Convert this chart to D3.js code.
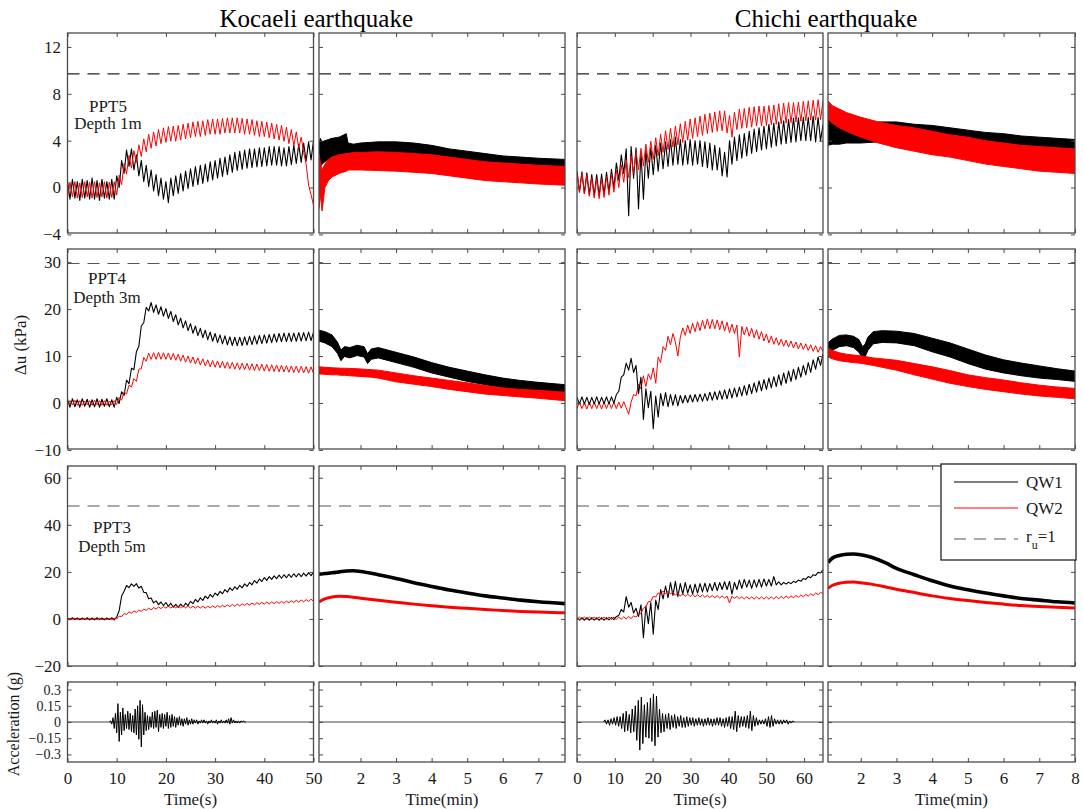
<!DOCTYPE html>
<html><head><meta charset="utf-8">
<script src="https://cdn.jsdelivr.net/npm/d3@7"></script>
<style>body{margin:0;background:#fff}</style>
</head><body><svg id="c" width="1083" height="809"></svg>
<script>
// ---------------- DATA ----------------
// Time (s) series: uniform sampling, start 0
const kocaeliSecStep = 0.5;   // s
const chichiSecStep = 0.65;   // s

const kocaeliPPT5_QW1 = [0.6,-1.0,0.7,-0.9,0.5,-1.1,0.7,-0.9,0.6,-1.0,
 0.8,-1.0,0.6,-1.1,0.7,-0.9,0.5,-1.0,0.7,-1.0,
 1.0,0.0,2.3,1.2,3.2,1.8,3.3,1.5,2.8,1.0,
 2.3,0.5,1.9,0.1,1.5,-0.3,1.1,-0.7,0.8,-1.0,
 0.5,-1.3,0.8,-0.7,1.0,-0.5,1.2,-0.3,1.4,-0.1,
 1.6,0.1,1.8,0.25,1.9,0.35,2.0,0.5,2.2,0.65,
 2.3,0.8,2.5,0.95,2.6,1.1,2.8,1.3,3.0,1.45,
 3.1,1.55,3.2,1.65,3.3,1.7,3.3,1.75,3.4,1.8,
 3.4,1.85,3.5,1.9,3.5,1.9,3.5,1.85,3.4,1.85,
 3.5,1.95,3.6,2.05,3.7,2.15,3.8,2.25,3.9,2.35,4.0];
const kocaeliPPT5_QW2 = [-0.85,0.45,-0.8,0.5,-0.9,0.4,-0.85,0.5,-0.8,0.45,
 -0.9,0.5,-0.85,0.4,-0.8,0.5,-0.9,0.45,-0.85,0.5,
 -0.65,1.05,0.25,2.05,1.15,2.75,1.65,3.15,2.15,3.65,
 2.65,4.15,3.05,4.55,3.35,4.75,3.55,4.95,3.75,5.1,
 3.85,5.2,3.95,5.25,3.95,5.3,4.05,5.4,4.15,5.5,
 4.25,5.6,4.35,5.65,4.35,5.7,4.45,5.8,4.55,5.85,
 4.55,5.85,4.55,5.9,4.65,5.95,4.65,5.95,4.65,5.95,
 4.65,5.9,4.55,5.85,4.55,5.8,4.45,5.7,4.35,5.65,
 4.35,5.6,4.25,5.5,4.15,5.4,4.05,5.3,3.95,5.15,
 3.75,4.95,3.55,4.75,3.35,4.3,3.0,2.0,0.2,-0.6,-1.5];
const kocaeliPPT4_QW1 = [0.8,-0.9,0.9,-0.8,0.7,-0.9,0.9,-0.7,0.8,-0.9,
 0.7,-0.8,0.9,-0.9,0.8,-0.7,0.9,-0.8,0.7,-0.9,
 1.2,-0.1,2.4,1.6,4.9,4.1,7.4,7.1,10.9,12.1,
 16.4,17.1,20.4,19.6,21.4,19.3,20.9,18.9,20.5,18.5,
 20.1,18.0,19.5,17.35,18.8,16.65,18.1,16.0,17.5,15.4,
 16.9,14.85,16.4,14.35,15.9,13.9,15.5,13.5,15.1,13.15,
 14.8,12.85,14.5,12.6,14.3,12.4,14.1,12.25,14.0,12.2,
 14.0,12.25,14.1,12.35,14.2,12.45,14.3,12.55,14.4,12.65,
 14.5,12.75,14.6,12.85,14.7,12.95,14.8,13.05,14.9,13.1,
 14.9,13.1,14.9,13.15,15.0,13.2,15.0,13.25,15.1,13.3,15.1];
const kocaeliPPT4_QW2 = [-0.5,0.5,-0.4,0.6,-0.5,0.5,-0.5,0.4,-0.4,0.5,
 -0.5,0.6,-0.4,0.5,-0.5,0.5,-0.5,0.4,-0.4,0.5,
 -0.3,1.2,0.6,2.4,1.9,3.8,3.4,5.2,4.6,7.2,
 7.3,9.7,8.9,10.6,9.3,10.7,9.3,10.8,9.3,10.7,
 9.3,10.65,9.2,10.55,9.1,10.4,8.9,10.2,8.7,10.0,
 8.5,9.8,8.3,9.6,8.1,9.4,7.9,9.2,7.7,9.05,
 7.6,8.95,7.5,8.85,7.4,8.75,7.3,8.65,7.2,8.55,
 7.1,8.5,7.1,8.45,7.0,8.35,6.9,8.3,6.9,8.25,
 6.8,8.2,6.75,8.15,6.7,8.1,6.65,8.05,6.6,7.95,
 6.55,7.9,6.5,7.85,6.45,7.8,6.4,7.75,6.35,7.7,6.3];
const kocaeliPPT3_QW1 = [0.4,-0.4,0.5,-0.3,0.4,-0.4,0.4,-0.3,0.5,-0.4,
 0.4,-0.4,0.5,-0.3,0.4,-0.4,0.4,-0.3,0.5,-0.4,
 0.8,3.5,9.7,11.8,14.2,13.3,14.9,13.8,15.0,13.1,
 13.9,11.3,11.2,8.6,8.9,6.8,7.7,6.1,7.2,5.7,
 7.0,5.4,6.7,5.0,6.2,4.9,6.3,5.1,6.7,5.7,
 7.5,6.5,8.3,7.2,9.0,7.9,9.7,8.6,10.4,9.3,
 11.0,10.0,11.7,10.7,12.5,11.4,13.2,12.1,13.7,12.6,
 14.3,13.2,14.9,13.8,15.5,14.5,16.3,15.2,17.0,15.9,
 17.6,16.4,18.0,16.8,18.3,17.1,18.6,17.3,18.8,17.5,
 19.0,17.7,19.2,17.9,19.3,18.0,19.5,18.2,19.7,18.4,19.9];
const kocaeliPPT3_QW2 = [-0.3,0.3,-0.3,0.3,-0.3,0.3,-0.3,0.3,-0.3,0.3,
 -0.3,0.3,-0.3,0.3,-0.3,0.3,-0.3,0.3,-0.3,0.3,
 0.0,1.2,1.0,2.3,1.9,3.0,2.4,3.4,2.8,3.8,
 3.2,4.2,3.6,4.55,3.9,4.85,4.2,5.1,4.4,5.3,
 4.6,5.4,4.65,5.45,4.7,5.5,4.7,5.5,4.7,5.5,
 4.65,5.4,4.6,5.4,4.6,5.4,4.6,5.45,4.7,5.55,
 4.8,5.7,4.95,5.85,5.1,6.0,5.25,6.15,5.4,6.3,
 5.55,6.45,5.7,6.6,5.85,6.75,6.0,6.9,6.15,7.05,
 6.3,7.15,6.4,7.25,6.5,7.35,6.6,7.45,6.7,7.6,
 6.85,7.75,7.0,7.9,7.15,8.05,7.3,8.2,7.45,8.35,7.6];

const chichiPPT5_QW1 = [1.4,-0.4,1.35,-0.5,1.25,-0.6,1.1,-0.7,1.1,-0.7,
 1.15,-0.6,1.3,-0.4,1.55,-0.05,2.1,0.6,2.8,1.2,
 3.3,-2.4,3.5,0.8,3.4,-1.8,3.0,-1.0,3.2,0.8,
 3.4,1.1,3.6,1.4,3.8,1.6,3.9,1.8,4.1,1.9,
 4.3,2.0,4.1,1.9,4.0,2.0,4.1,1.9,4.0,2.0,
 4.0,1.8,3.9,1.7,3.8,1.5,3.6,1.5,3.4,1.0,
 3.0,0.9,4.0,2.0,4.3,2.3,4.5,2.5,4.6,2.7,
 4.8,2.9,5.0,3.05,5.1,3.2,5.25,3.3,5.4,3.45,
 5.5,3.55,5.6,3.7,5.7,3.75,5.8,3.85,5.9,3.9,
 5.95,4.0,6.0,4.0,6.0,4.0,6.1,3.9,6.0,4.0,5.4];
const chichiPPT5_QW2 = [1.35,-0.4,1.25,-0.55,1.05,-0.75,0.85,-0.9,0.75,-0.95,
 0.75,-0.85,0.95,-0.65,1.15,-0.4,1.5,0.0,1.95,0.45,
 2.35,0.85,2.7,1.2,3.05,1.5,3.35,1.85,3.7,2.15,
 3.95,2.4,4.25,2.7,4.55,3.0,4.85,3.25,5.05,3.45,
 5.25,3.65,5.45,3.85,5.65,4.05,5.85,4.2,5.95,4.35,
 6.1,4.45,6.25,4.6,6.35,4.7,6.45,4.8,6.55,4.85,
 6.55,4.65,6.15,4.3,6.45,4.95,6.7,5.05,6.75,5.1,
 6.85,5.15,6.9,5.25,6.95,5.25,6.95,5.3,7.0,5.35,
 7.05,5.4,7.15,5.45,7.2,5.5,7.25,5.55,7.25,5.6,
 7.3,5.65,7.35,5.7,7.4,5.75,7.45,5.75,7.5,5.8,7.4];
const chichiPPT4_QW1 = [1.2,-0.2,1.3,-0.2,1.2,-0.3,1.2,-0.2,1.3,-0.2,
 1.2,-0.1,1.3,-0.2,1.3,0.0,1.8,2.5,5.5,6.0,
 8.5,7.0,9.5,6.5,8.0,2.0,5.5,-3.5,3.0,-1.0,
 2.5,-5.5,1.5,-3.0,2.0,-0.6,2.2,-0.8,1.8,-0.5,
 1.8,-0.6,1.6,0.0,1.6,0.1,1.7,0.2,1.8,0.3,
 1.9,0.4,2.0,0.5,2.3,0.6,2.4,0.7,2.6,0.8,
 2.8,0.9,3.0,1.1,3.2,1.3,3.4,1.5,3.7,1.7,
 4.0,2.0,4.3,2.3,4.7,2.6,5.0,2.9,5.3,3.2,
 5.6,3.5,6.0,3.8,6.4,4.2,6.8,4.6,7.2,5.0,
 7.6,5.5,8.0,6.0,8.6,6.5,9.2,7.2,9.8,8.0,10.5];
const chichiPPT4_QW2 = [-1.2,0.2,-1.2,0.1,-1.3,0.2,-1.2,0.2,-1.2,0.1,
 -1.3,0.2,-1.2,0.2,-1.2,0.2,-1.2,0.2,-1.1,0.3,
 -1.0,-2.4,0.2,1.8,1.5,4.0,3.0,5.8,3.5,6.2,
 5.0,7.5,4.2,9.8,8.6,12.0,11.2,14.2,12.4,14.8,
 13.0,10.0,14.0,16.0,14.4,16.6,14.8,17.0,15.2,17.3,
 15.4,17.6,15.8,17.9,15.8,17.8,15.8,17.7,15.6,17.5,
 15.3,17.2,15.0,16.8,14.8,16.6,9.8,16.3,14.5,16.2,
 14.2,15.9,13.9,15.6,13.6,15.2,13.2,14.7,12.8,14.3,
 12.5,13.9,12.3,13.6,12.1,13.4,11.9,13.2,11.7,13.0,
 11.5,12.8,11.4,12.6,11.2,12.4,11.0,12.2,10.8,12.0,11.0];
const chichiPPT3_QW1 = [0.5,-0.5,0.5,-0.5,0.5,-0.5,0.5,-0.5,0.5,-0.5,
 0.5,-0.5,0.5,-0.4,0.6,-0.3,1.0,1.5,4.0,3.0,
 9.5,5.0,7.0,2.5,4.5,1.0,6.0,-8.0,5.5,-2.0,
 7.0,-6.5,8.0,4.0,12.5,8.5,14.0,9.0,15.5,10.0,
 16.0,9.5,15.0,10.5,15.5,11.0,14.5,10.5,14.8,11.0,
 15.0,11.5,15.2,11.5,15.0,12.0,15.5,12.0,15.5,12.5,
 15.8,12.5,16.0,10.5,15.5,12.5,16.5,13.0,16.8,13.5,
 16.5,13.0,16.6,13.5,16.8,13.5,17.0,14.0,16.8,14.0,
 18.0,14.5,15.8,14.5,15.5,14.8,15.6,15.0,16.0,15.5,
 16.5,16.0,17.2,16.8,18.0,17.5,18.8,18.5,19.8,19.5,21.0];
const chichiPPT3_QW2 = [-0.2,0.8,-0.2,0.8,-0.2,0.8,-0.2,0.8,-0.2,0.8,
 -0.2,0.8,-0.2,0.8,-0.2,0.8,-0.2,0.8,-0.1,0.9,
 0.0,1.0,0.1,1.3,0.8,2.2,2.4,4.6,5.0,7.4,
 7.4,9.6,9.3,11.0,10.5,11.9,10.8,11.8,10.6,11.4,
 10.1,11.0,9.7,10.7,9.6,10.6,9.5,10.5,9.4,10.3,
 9.3,10.2,9.2,10.1,9.1,10.0,9.0,9.9,8.9,9.8,
 8.8,9.7,6.8,9.7,8.7,9.6,8.6,9.5,8.5,9.4,
 8.5,9.4,8.4,9.4,8.4,9.4,8.4,9.4,8.4,9.4,
 8.5,9.5,8.6,9.6,8.7,9.7,8.8,9.8,9.0,10.0,
 9.2,10.2,9.4,10.4,9.7,10.7,10.0,11.0,10.3,11.3,10.8];

// Time (min) series: envelope bands (upper / lower) at sample times
const kocaeliPPT5_minT = [0.833,0.87,0.92,1.0,1.1,1.2,1.4,1.6,1.65,1.8,2.0,2.5,3.0,3.5,4.0,4.5,5.0,5.5,6.0,6.5,7.0,7.75];
const kocaeliPPT5_QW1_hi = [3.8,4.2,3.9,4.0,4.1,4.2,4.3,4.6,3.8,3.7,3.8,3.9,3.9,3.8,3.6,3.3,3.1,2.9,2.7,2.6,2.5,2.4];
const kocaeliPPT5_QW1_lo = [1.0,1.8,2.0,2.2,2.4,2.5,2.6,2.7,2.4,2.3,2.4,2.5,2.5,2.4,2.2,2.0,1.8,1.6,1.4,1.3,1.2,1.1];
const kocaeliPPT5_QW2_hi = [2.9,2.2,1.5,2.0,2.4,2.6,2.8,2.9,2.9,3.0,3.0,3.05,3.0,2.9,2.8,2.6,2.4,2.2,2.1,2.0,1.9,1.8];
const kocaeliPPT5_QW2_lo = [-1.8,-0.6,-2.0,0.0,0.6,0.9,1.2,1.4,1.5,1.5,1.5,1.45,1.4,1.3,1.2,1.0,0.8,0.6,0.5,0.4,0.3,0.2];

const chichiPPT5_minT = [1.083,1.2,1.4,1.6,2.0,2.5,3.0,3.5,4.0,4.5,5.0,5.5,6.0,6.5,7.0,7.5,8.0];
const chichiPPT5_QW1_hi = [5.8,5.5,5.3,5.2,5.4,5.6,5.6,5.4,5.3,5.1,4.9,4.7,4.6,4.4,4.3,4.2,4.1];
const chichiPPT5_QW1_lo = [3.6,3.7,3.7,3.8,3.8,3.9,3.8,3.6,3.5,3.4,3.3,3.2,3.1,3.0,2.9,2.8,2.7];
const chichiPPT5_QW2_hi = [7.4,7.0,6.7,6.4,6.0,5.6,5.3,5.1,4.8,4.5,4.3,4.0,3.8,3.6,3.5,3.4,3.3];
const chichiPPT5_QW2_lo = [5.9,5.5,5.1,4.8,4.3,3.8,3.4,3.1,2.8,2.6,2.3,2.0,1.8,1.6,1.4,1.3,1.2];

const kocaeliPPT4_minT = [0.833,1.0,1.2,1.35,1.45,1.55,1.7,1.9,2.1,2.2,2.3,2.5,3.0,3.5,4.0,4.5,5.0,5.5,6.0,6.5,7.0,7.75];
const kocaeliPPT4_QW1_hi = [15.5,15.2,14.5,13.0,11.3,12.0,11.8,12.3,12.0,10.5,11.5,11.8,10.8,9.8,8.6,7.6,6.8,6.0,5.3,4.8,4.4,3.9];
const kocaeliPPT4_QW1_lo = [13.2,12.8,12.0,10.6,9.0,9.9,9.6,10.1,9.8,8.4,9.3,9.6,8.6,7.6,6.4,5.5,4.6,3.9,3.3,2.8,2.4,2.0];
const kocaeliPPT4_QW2_hi = [7.7,7.6,7.5,7.45,7.4,7.4,7.35,7.3,7.2,7.15,7.1,7.0,6.4,5.8,5.3,4.8,4.3,3.7,3.2,2.9,2.7,2.3];
const kocaeliPPT4_QW2_lo = [6.2,6.1,6.0,6.0,5.9,5.9,5.8,5.7,5.6,5.55,5.5,5.3,4.5,4.0,3.5,2.9,2.4,1.9,1.6,1.3,1.0,0.5];

const chichiPPT4_minT = [1.083,1.2,1.4,1.6,1.8,1.95,2.05,2.12,2.2,2.35,2.6,3.0,3.5,4.0,4.5,5.0,5.5,6.0,6.5,7.0,7.5,8.0];
const chichiPPT4_QW1_hi = [12.8,13.6,14.4,14.5,14.2,13.5,12.0,12.5,14.0,15.2,15.4,15.3,14.8,13.8,12.8,11.5,10.2,9.2,8.5,7.9,7.3,6.8];
const chichiPPT4_QW1_lo = [10.6,11.2,12.0,12.2,11.8,10.8,9.5,9.8,11.2,12.6,12.9,12.8,12.2,10.9,9.8,8.4,7.2,6.4,5.8,5.3,5.0,4.6];
const chichiPPT4_QW2_hi = [11.7,11.2,10.7,10.4,10.2,10.1,10.0,9.9,9.8,9.6,9.4,9.1,8.4,7.7,6.9,6.0,5.4,4.9,4.3,3.8,3.4,3.1];
const chichiPPT4_QW2_lo = [9.8,9.4,9.0,8.8,8.6,8.5,8.4,8.3,8.2,8.0,7.6,7.0,6.0,5.1,4.2,3.5,2.9,2.4,1.9,1.5,1.2,0.9];

const kocaeliPPT3_minT = [0.833,1.0,1.2,1.4,1.6,1.8,2.0,2.5,3.0,3.5,4.0,4.5,5.0,5.5,6.0,6.5,7.0,7.75];
const kocaeliPPT3_QW1_min = [19.0,19.3,19.6,20.0,20.4,20.5,20.2,18.8,17.2,15.4,13.8,12.3,11.0,9.8,8.9,8.0,7.3,6.5];
const kocaeliPPT3_QW2_min = [7.2,8.5,9.3,9.6,9.5,9.2,8.8,7.9,7.1,6.3,5.6,5.0,4.5,4.0,3.6,3.2,2.9,2.6];

const chichiPPT3_minT = [1.083,1.2,1.4,1.6,1.8,2.0,2.3,2.7,3.0,3.5,4.0,4.5,5.0,5.5,6.0,6.5,7.0,7.5,8.0];
const chichiPPT3_QW1_min = [24.0,25.8,27.0,27.5,27.6,27.3,26.2,23.8,21.5,18.8,16.2,14.0,12.4,11.0,9.8,8.7,8.0,7.3,6.8];
const chichiPPT3_QW2_min = [13.0,14.2,15.2,15.6,15.7,15.4,14.8,13.6,12.6,11.2,9.8,8.7,7.8,7.0,6.3,5.7,5.3,5.0,4.7];

// Accelerations (g)
const kocaeliAccStart = 8.5, kocaeliAccStep = 0.25;
const kocaeliAcc = [0.00,0.01,-0.02,0.04,-0.06,0.08,-0.10,0.17,-0.18,0.09,
 -0.12,0.13,-0.08,0.07,-0.06,0.10,-0.07,0.08,-0.09,0.06,
 -0.10,0.12,-0.12,0.15,-0.16,0.20,-0.23,0.16,-0.12,0.09,
 -0.08,0.06,-0.07,0.05,-0.05,0.09,-0.06,0.10,-0.05,0.11,
 -0.09,0.07,-0.05,0.08,-0.06,0.07,-0.04,0.09,-0.06,0.06,
 -0.05,0.07,-0.04,0.05,-0.05,0.04,-0.03,0.05,-0.03,0.03,
 -0.04,0.03,-0.02,0.04,-0.03,0.02,-0.02,0.03,-0.02,0.02,
 -0.01,0.02,-0.02,0.01,-0.01,0.02,-0.01,0.02,-0.01,0.01,
 -0.02,0.01,-0.01,0.02,-0.01,0.01,-0.01,0.02,-0.02,0.01,
 -0.01,0.02,-0.01,0.01,-0.01,0.02,-0.01,0.03,-0.02,0.04,
 -0.01,0.02,-0.01,0.01,-0.01,0.01,-0.01,0.01,0.0,0.01,0.0,0.0];
const chichiAccStart = 7.0, chichiAccStep = 0.4;
const chichiAcc = [0.00,0.02,-0.02,0.02,-0.03,0.03,-0.02,0.04,-0.03,0.05,
 -0.04,0.05,-0.06,0.08,-0.09,0.10,-0.08,0.07,-0.10,0.12,
 -0.09,0.15,-0.17,0.20,-0.26,0.23,-0.20,0.16,-0.14,0.18,
 -0.15,0.22,-0.18,0.26,-0.22,0.24,-0.14,0.12,-0.10,0.08,
 -0.09,0.07,-0.06,0.08,-0.07,0.06,-0.05,0.07,-0.06,0.05,
 -0.04,0.06,-0.05,0.04,-0.05,0.05,-0.04,0.04,-0.03,0.04,
 -0.04,0.03,-0.03,0.04,-0.03,0.03,-0.04,0.03,-0.03,0.04,
 -0.03,0.03,-0.04,0.03,-0.03,0.04,-0.03,0.04,-0.04,0.03,
 -0.05,0.04,-0.04,0.05,-0.06,0.05,-0.07,0.10,-0.09,0.06,
 -0.05,0.05,-0.04,0.05,-0.05,0.06,-0.06,0.10,-0.08,0.06,
 -0.04,0.04,-0.03,0.02,-0.02,0.02,-0.02,0.03,-0.04,0.05,
 -0.05,0.06,-0.04,0.03,-0.02,0.02,-0.02,0.02,-0.02,0.02,
 -0.01,0.02,-0.02,0.01,-0.01,0.01,0.00];
const accQuiet = [0, 0]; // flat record outside the shaking, at the two panel ends

// r_u = 1 levels (kPa) for PPT5, PPT4, PPT3
const ruLevels = [9.7, 29.7, 48];

// Tick values / labels
const secTicksKocaeli = [0,10,20,30,40,50];
const minTicksKocaeli = [2,3,4,5,6,7];
const secTicksChichi = [0,10,20,30,40,50,60];
const minTicksChichi = [2,3,4,5,6,7,8];
const yTicksPPT5 = [-4,0,4,8,12];
const yTicksPPT4 = [-10,0,10,20,30];
const yTicksPPT3 = [-20,0,20,40,60];
const yTicksAcc = [-0.3,-0.15,0,0.15,0.3];
const titles = ["Kocaeli earthquake","Chichi earthquake"];
const sensorLabels = [["PPT5","Depth 1m"],["PPT4","Depth 3m"],["PPT3","Depth 5m"]];
const legendLabels = ["QW1","QW2"];

// ---------------- LAYOUT ----------------
const FONT = '"Liberation Serif","Times New Roman",Times,serif';
const frameColor = "#4a4a4a";
const RED = "#ff0000";
const svg = d3.select("#c");

const cols = [
 {x0:67.5, x1:313.5, dom:[0,50], ticks:secTicksKocaeli},
 {x0:319, x1:565, dom:[50/60,7.75], ticks:minTicksKocaeli},
 {x0:577, x1:823, dom:[0,65], ticks:secTicksChichi},
 {x0:828, x1:1075, dom:[65/60,8], ticks:minTicksChichi}
];
const rows = [
 {y0:33, y1:233, dom:[-3.88,13.19], ticks:yTicksPPT5, fs:17},
 {y0:249, y1:449, dom:[-9.8,32.8], ticks:yTicksPPT4, fs:17},
 {y0:466, y1:666, dom:[-20,65], ticks:yTicksPPT3, fs:17},
 {y0:682, y1:762, dom:[-0.37,0.37], ticks:yTicksAcc, fs:14}
];
const xs = cols.map(c => d3.scaleLinear().domain(c.dom).range([c.x0,c.x1]));
const ys = rows.map(r => d3.scaleLinear().domain(r.dom).range([r.y1,r.y0]));
const fmt = d => (d < 0 ? "\u2212" : "") + Math.abs(d);

const defs = svg.append("defs");
const panels = {};
rows.forEach((r,ri) => cols.forEach((c,ci) => {
  const id = `clip${ri}${ci}`;
  defs.append("clipPath").attr("id",id).append("rect")
    .attr("x",c.x0).attr("y",r.y0).attr("width",c.x1-c.x0).attr("height",r.y1-r.y0);
  panels[ri+"_"+ci] = svg.append("g").attr("clip-path",`url(#${id})`);
}));

function zig(ri, ci, vals, step, start, color, w){
  const x = xs[ci], y = ys[ri];
  panels[ri+"_"+ci].append("path").datum(vals)
    .attr("d", d3.line().x((d,i)=>x(start+i*step)).y(d=>y(d)))
    .attr("fill","none").attr("stroke",color).attr("stroke-width",w).attr("stroke-linejoin","round");
}
function band(ri, ci, t, hi, lo, color){
  const x = xs[ci], y = ys[ri];
  panels[ri+"_"+ci].append("path").datum(t)
    .attr("d", d3.area().x((d)=>x(d)).y0((d,i)=>y(lo[i])).y1((d,i)=>y(hi[i])))
    .attr("fill",color).attr("stroke",color).attr("stroke-width",1);
}
function thick(ri, ci, t, vals, color, w){
  const x = xs[ci], y = ys[ri];
  panels[ri+"_"+ci].append("path").datum(t)
    .attr("d", d3.line().x(d=>x(d)).y((d,i)=>y(vals[i])).curve(d3.curveMonotoneX))
    .attr("fill","none").attr("stroke",color).attr("stroke-width",w);
}

// r_u = 1 dashed lines
ruLevels.forEach((lv,ri) => cols.forEach((c,ci) => {
  panels[ri+"_"+ci].append("line")
    .attr("x1",c.x0).attr("x2",c.x1).attr("y1",ys[ri](lv)).attr("y2",ys[ri](lv))
    .attr("stroke", ri===0 ? "#222" : "#555").attr("stroke-width",1.1).attr("stroke-dasharray","12,8");
}));

// Row 0: PPT5
zig(0,0,kocaeliPPT5_QW1,kocaeliSecStep,0,"#000",1.1);
zig(0,0,kocaeliPPT5_QW2,kocaeliSecStep,0,RED,1);
band(0,1,kocaeliPPT5_minT,kocaeliPPT5_QW1_hi,kocaeliPPT5_QW1_lo,"#000");
band(0,1,kocaeliPPT5_minT,kocaeliPPT5_QW2_hi,kocaeliPPT5_QW2_lo,RED);
zig(0,2,chichiPPT5_QW1,chichiSecStep,0,"#000",1.1);
zig(0,2,chichiPPT5_QW2,chichiSecStep,0,RED,1);
band(0,3,chichiPPT5_minT,chichiPPT5_QW1_hi,chichiPPT5_QW1_lo,"#000");
band(0,3,chichiPPT5_minT,chichiPPT5_QW2_hi,chichiPPT5_QW2_lo,RED);
// Row 1: PPT4
zig(1,0,kocaeliPPT4_QW1,kocaeliSecStep,0,"#000",1.1);
zig(1,0,kocaeliPPT4_QW2,kocaeliSecStep,0,RED,1);
band(1,1,kocaeliPPT4_minT,kocaeliPPT4_QW1_hi,kocaeliPPT4_QW1_lo,"#000");
band(1,1,kocaeliPPT4_minT,kocaeliPPT4_QW2_hi,kocaeliPPT4_QW2_lo,RED);
zig(1,2,chichiPPT4_QW2,chichiSecStep,0,RED,1);
zig(1,2,chichiPPT4_QW1,chichiSecStep,0,"#000",1.1);
band(1,3,chichiPPT4_minT,chichiPPT4_QW1_hi,chichiPPT4_QW1_lo,"#000");
band(1,3,chichiPPT4_minT,chichiPPT4_QW2_hi,chichiPPT4_QW2_lo,RED);
// Row 2: PPT3
zig(2,0,kocaeliPPT3_QW1,kocaeliSecStep,0,"#000",1.1);
zig(2,0,kocaeliPPT3_QW2,kocaeliSecStep,0,RED,1);
thick(2,1,kocaeliPPT3_minT,kocaeliPPT3_QW1_min,"#000",3.6);
thick(2,1,kocaeliPPT3_minT,kocaeliPPT3_QW2_min,RED,3);
zig(2,2,chichiPPT3_QW1,chichiSecStep,0,"#000",1.1);
zig(2,2,chichiPPT3_QW2,chichiSecStep,0,RED,1);
thick(2,3,chichiPPT3_minT,chichiPPT3_QW1_min,"#000",3.6);
thick(2,3,chichiPPT3_minT,chichiPPT3_QW2_min,RED,3);
// Row 3: acceleration
cols.forEach((c,ci) => {
  panels["3_"+ci].append("path").datum(accQuiet)
    .attr("d", d3.line().x((d,i)=>xs[ci](c.dom[i])).y(d=>ys[3](d)))
    .attr("stroke","#444").attr("stroke-width",1.2).attr("fill","none");
});
zig(3,0,kocaeliAcc,kocaeliAccStep,kocaeliAccStart,"#000",1);
zig(3,2,chichiAcc,chichiAccStep,chichiAccStart,"#000",1);

// Axes (inward ticks on all four sides) and frames
function styleAxis(g, fs){
  g.select(".domain").remove();
  g.selectAll(".tick line").attr("stroke",frameColor).attr("stroke-width",1);
  g.selectAll("text").attr("font-family",FONT).attr("font-size",fs).attr("fill","#1a1a1a");
}
rows.forEach((r,ri) => cols.forEach((c,ci) => {
  const x = xs[ci], y = ys[ri];
  styleAxis(svg.append("g").attr("transform",`translate(${c.x0},0)`)
    .call(d3.axisLeft(y).tickValues(r.ticks).tickSizeInner(-4).tickSizeOuter(0).tickPadding(6.5)
      .tickFormat(ci===0 ? fmt : () => "")), r.fs);
  styleAxis(svg.append("g").attr("transform",`translate(${c.x1},0)`)
    .call(d3.axisRight(y).tickValues(r.ticks).tickSizeInner(-4).tickSizeOuter(0).tickFormat(() => "")), 17);
  styleAxis(svg.append("g").attr("transform",`translate(0,${r.y0})`)
    .call(d3.axisTop(x).tickValues(c.ticks).tickSizeInner(-4).tickSizeOuter(0).tickFormat(() => "")), 17);
  styleAxis(svg.append("g").attr("transform",`translate(0,${r.y1})`)
    .call(d3.axisBottom(x).tickValues(c.ticks).tickSizeInner(-4).tickSizeOuter(0).tickPadding(10)
      .tickFormat(ri===3 ? fmt : () => "")), 17);
  svg.append("rect").attr("x",c.x0).attr("y",r.y0).attr("width",c.x1-c.x0).attr("height",r.y1-r.y0)
    .attr("fill","none").attr("stroke",frameColor).attr("stroke-width",1.3);
}));

// Titles
svg.append("text").attr("x",(cols[0].x0+cols[1].x1)/2).attr("y",27).attr("text-anchor","middle")
  .attr("font-family",FONT).attr("font-size",25).text(titles[0]);
svg.append("text").attr("x",(cols[2].x0+cols[3].x1)/2).attr("y",27).attr("text-anchor","middle")
  .attr("font-family",FONT).attr("font-size",25).text(titles[1]);

// x-axis titles
["Time(s)","Time(min)","Time(s)","Time(min)"].forEach((t,ci) => {
  svg.append("text").attr("x",(cols[ci].x0+cols[ci].x1)/2).attr("y",805).attr("text-anchor","middle")
    .attr("font-family",FONT).attr("font-size",17).attr("fill","#1a1a1a").text(t);
});
// y-axis titles
svg.append("text").attr("transform","translate(26,345) rotate(-90)").attr("text-anchor","middle")
  .attr("font-family",FONT).attr("font-size",17).attr("fill","#1a1a1a").text("\u0394u (kPa)");
svg.append("text").attr("transform","translate(19,724) rotate(-90)").attr("text-anchor","middle")
  .attr("font-family",FONT).attr("font-size",16).attr("fill","#1a1a1a").text("Acceleration (g)");

// Sensor annotations
const annPos = [[108,112,129],[107,284,302.5],[112,533,552]];
sensorLabels.forEach((s,i) => {
  const [ax,ay1,ay2] = annPos[i];
  svg.append("text").attr("x",ax).attr("y",ay1).attr("text-anchor","middle")
    .attr("font-family",FONT).attr("font-size",17).attr("fill","#1a1a1a").text(s[0]);
  svg.append("text").attr("x",ax).attr("y",ay2).attr("text-anchor","middle")
    .attr("font-family",FONT).attr("font-size",17).attr("fill","#1a1a1a").text(s[1]);
});

// Legend
const lg = svg.append("g");
lg.append("rect").attr("x",941).attr("y",464).attr("width",135).attr("height",96)
  .attr("fill","#fff").attr("stroke","#111").attr("stroke-width",1.2);
[["#000",482,legendLabels[0]],[RED,508,legendLabels[1]]].forEach(([col,ly,lab]) => {
  lg.append("line").attr("x1",954).attr("x2",1018).attr("y1",ly).attr("y2",ly).attr("stroke",col).attr("stroke-width",1.2);
  lg.append("text").attr("x",1026).attr("y",ly+6).attr("font-family",FONT).attr("font-size",17).attr("fill","#1a1a1a").text(lab);
});
lg.append("line").attr("x1",954).attr("x2",1018).attr("y1",539).attr("y2",539)
  .attr("stroke","#555").attr("stroke-width",1.1).attr("stroke-dasharray","12,8");
const ru = lg.append("text").attr("x",1026).attr("y",542).attr("font-family",FONT).attr("font-size",17).attr("fill","#1a1a1a");
ru.append("tspan").text("r");
ru.append("tspan").attr("dy",7).attr("font-size",12).text("u");
ru.append("tspan").attr("dy",-7).text("=1");
</script>
</body></html>
